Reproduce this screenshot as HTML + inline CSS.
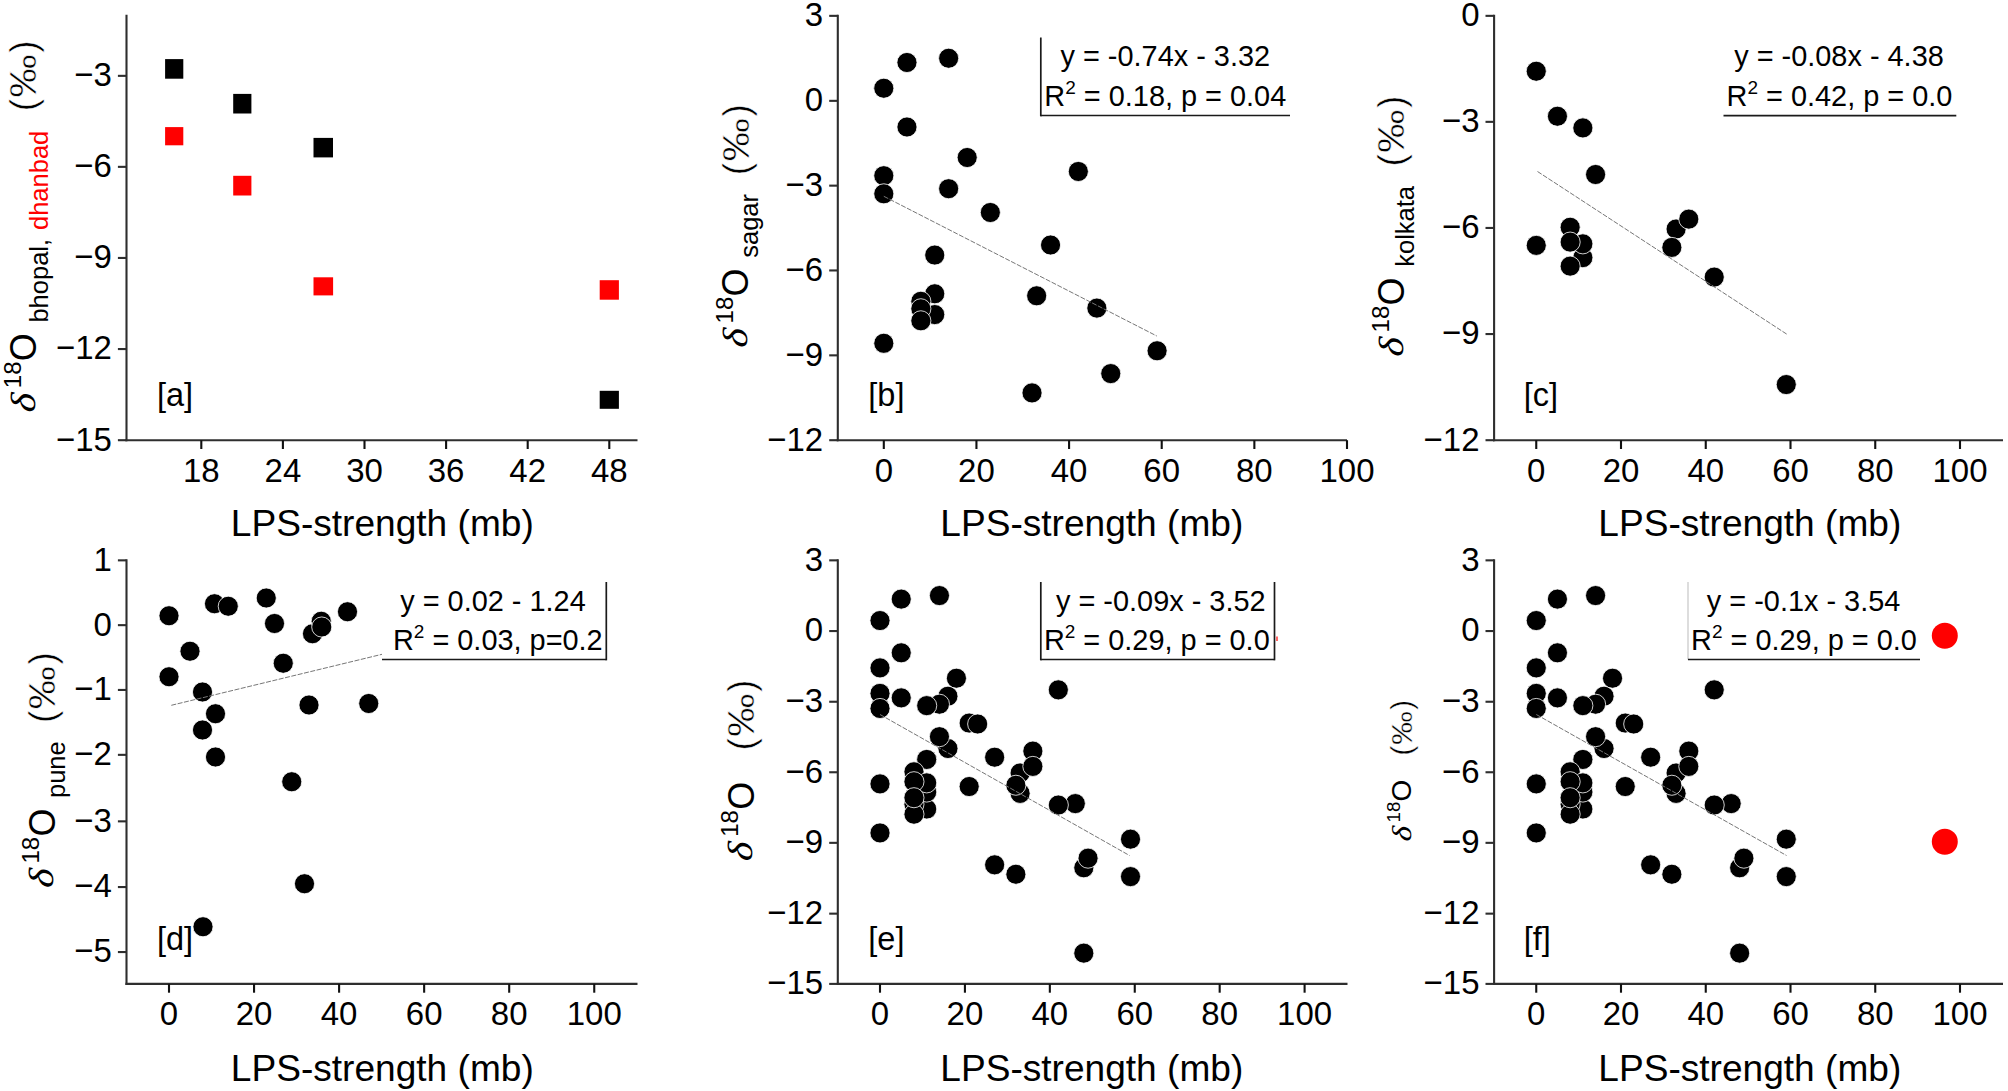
<!DOCTYPE html>
<html><head><meta charset="utf-8"><title>LPS-strength vs d18O</title>
<style>
html,body{margin:0;padding:0;background:#fff;}
body{width:2008px;height:1091px;overflow:hidden;}
svg{display:block;font-family:"Liberation Sans",Arial,sans-serif;}
</style></head><body>
<svg width="2008" height="1091" viewBox="0 0 2008 1091">
<rect width="2008" height="1091" fill="#fff"/>
<line x1="126.50" y1="14.80" x2="126.50" y2="441.25" stroke="#2e2e2e" stroke-width="2.1" />
<line x1="125.45" y1="440.20" x2="637.50" y2="440.20" stroke="#2e2e2e" stroke-width="2.1" />
<line x1="117.90" y1="75.85" x2="126.50" y2="75.85" stroke="#2e2e2e" stroke-width="2.1" />
<text transform="translate(111.90,86.25) scale(1,1.025)" font-size="33" text-anchor="end" fill="#000">−3</text>
<line x1="117.90" y1="166.85" x2="126.50" y2="166.85" stroke="#2e2e2e" stroke-width="2.1" />
<text transform="translate(111.90,177.25) scale(1,1.025)" font-size="33" text-anchor="end" fill="#000">−6</text>
<line x1="117.90" y1="257.95" x2="126.50" y2="257.95" stroke="#2e2e2e" stroke-width="2.1" />
<text transform="translate(111.90,268.35) scale(1,1.025)" font-size="33" text-anchor="end" fill="#000">−9</text>
<line x1="117.90" y1="349.05" x2="126.50" y2="349.05" stroke="#2e2e2e" stroke-width="2.1" />
<text transform="translate(111.90,359.45) scale(1,1.025)" font-size="33" text-anchor="end" fill="#000">−12</text>
<line x1="117.90" y1="440.20" x2="126.50" y2="440.20" stroke="#2e2e2e" stroke-width="2.1" />
<text transform="translate(111.90,450.60) scale(1,1.025)" font-size="33" text-anchor="end" fill="#000">−15</text>
<line x1="201.30" y1="440.20" x2="201.30" y2="449.00" stroke="#111" stroke-width="2.1" />
<text transform="translate(201.30,481.50) scale(1,1.02)" font-size="33" text-anchor="middle" fill="#000">18</text>
<line x1="282.90" y1="440.20" x2="282.90" y2="449.00" stroke="#111" stroke-width="2.1" />
<text transform="translate(282.90,481.50) scale(1,1.02)" font-size="33" text-anchor="middle" fill="#000">24</text>
<line x1="364.50" y1="440.20" x2="364.50" y2="449.00" stroke="#111" stroke-width="2.1" />
<text transform="translate(364.50,481.50) scale(1,1.02)" font-size="33" text-anchor="middle" fill="#000">30</text>
<line x1="446.10" y1="440.20" x2="446.10" y2="449.00" stroke="#111" stroke-width="2.1" />
<text transform="translate(446.10,481.50) scale(1,1.02)" font-size="33" text-anchor="middle" fill="#000">36</text>
<line x1="527.70" y1="440.20" x2="527.70" y2="449.00" stroke="#111" stroke-width="2.1" />
<text transform="translate(527.70,481.50) scale(1,1.02)" font-size="33" text-anchor="middle" fill="#000">42</text>
<line x1="609.30" y1="440.20" x2="609.30" y2="449.00" stroke="#111" stroke-width="2.1" />
<text transform="translate(609.30,481.50) scale(1,1.02)" font-size="33" text-anchor="middle" fill="#000">48</text>
<text x="382.30" y="536.30" font-size="37.1" text-anchor="middle" fill="#000" >LPS-strength (mb)</text>
<rect x="165.10" y="59.10" width="18.20" height="19.60" fill="#000"/>
<rect x="233.20" y="93.90" width="18.20" height="19.60" fill="#000"/>
<rect x="313.50" y="137.90" width="19.50" height="19.50" fill="#000"/>
<rect x="599.70" y="390.80" width="19.20" height="18.00" fill="#000"/>
<rect x="165.10" y="127.10" width="18.20" height="18.20" fill="#ff0000"/>
<rect x="233.20" y="175.80" width="18.20" height="19.70" fill="#ff0000"/>
<rect x="313.50" y="277.30" width="19.60" height="18.10" fill="#ff0000"/>
<rect x="599.70" y="280.20" width="19.20" height="19.50" fill="#ff0000"/>
<text x="157.00" y="406.30" font-size="32.5" text-anchor="start" fill="#000" >[a]</text>
<line x1="837.80" y1="14.80" x2="837.80" y2="441.25" stroke="#2e2e2e" stroke-width="2.1" />
<line x1="836.75" y1="440.20" x2="1347.00" y2="440.20" stroke="#2e2e2e" stroke-width="2.1" />
<line x1="829.20" y1="15.85" x2="837.80" y2="15.85" stroke="#2e2e2e" stroke-width="2.1" />
<text transform="translate(823.20,26.25) scale(1,1.025)" font-size="33" text-anchor="end" fill="#000">3</text>
<line x1="829.20" y1="100.85" x2="837.80" y2="100.85" stroke="#2e2e2e" stroke-width="2.1" />
<text transform="translate(823.20,111.25) scale(1,1.025)" font-size="33" text-anchor="end" fill="#000">0</text>
<line x1="829.20" y1="185.65" x2="837.80" y2="185.65" stroke="#2e2e2e" stroke-width="2.1" />
<text transform="translate(823.20,196.05) scale(1,1.025)" font-size="33" text-anchor="end" fill="#000">−3</text>
<line x1="829.20" y1="270.45" x2="837.80" y2="270.45" stroke="#2e2e2e" stroke-width="2.1" />
<text transform="translate(823.20,280.85) scale(1,1.025)" font-size="33" text-anchor="end" fill="#000">−6</text>
<line x1="829.20" y1="355.35" x2="837.80" y2="355.35" stroke="#2e2e2e" stroke-width="2.1" />
<text transform="translate(823.20,365.75) scale(1,1.025)" font-size="33" text-anchor="end" fill="#000">−9</text>
<line x1="829.20" y1="440.20" x2="837.80" y2="440.20" stroke="#2e2e2e" stroke-width="2.1" />
<text transform="translate(823.20,450.60) scale(1,1.025)" font-size="33" text-anchor="end" fill="#000">−12</text>
<line x1="883.80" y1="440.20" x2="883.80" y2="449.00" stroke="#111" stroke-width="2.1" />
<text transform="translate(883.80,481.50) scale(1,1.02)" font-size="33" text-anchor="middle" fill="#000">0</text>
<line x1="976.44" y1="440.20" x2="976.44" y2="449.00" stroke="#111" stroke-width="2.1" />
<text transform="translate(976.44,481.50) scale(1,1.02)" font-size="33" text-anchor="middle" fill="#000">20</text>
<line x1="1069.08" y1="440.20" x2="1069.08" y2="449.00" stroke="#111" stroke-width="2.1" />
<text transform="translate(1069.08,481.50) scale(1,1.02)" font-size="33" text-anchor="middle" fill="#000">40</text>
<line x1="1161.72" y1="440.20" x2="1161.72" y2="449.00" stroke="#111" stroke-width="2.1" />
<text transform="translate(1161.72,481.50) scale(1,1.02)" font-size="33" text-anchor="middle" fill="#000">60</text>
<line x1="1254.36" y1="440.20" x2="1254.36" y2="449.00" stroke="#111" stroke-width="2.1" />
<text transform="translate(1254.36,481.50) scale(1,1.02)" font-size="33" text-anchor="middle" fill="#000">80</text>
<line x1="1347.00" y1="440.20" x2="1347.00" y2="449.00" stroke="#111" stroke-width="2.1" />
<text transform="translate(1347.00,481.50) scale(1,1.02)" font-size="33" text-anchor="middle" fill="#000">100</text>
<text x="1091.80" y="536.30" font-size="37.1" text-anchor="middle" fill="#000" >LPS-strength (mb)</text>
<circle cx="883.80" cy="88.25" r="10.05" fill="#000" stroke="#fff" stroke-width="0.8"/>
<circle cx="906.96" cy="62.49" r="10.05" fill="#000" stroke="#fff" stroke-width="0.8"/>
<circle cx="948.65" cy="58.25" r="10.05" fill="#000" stroke="#fff" stroke-width="0.8"/>
<circle cx="906.96" cy="127.00" r="10.05" fill="#000" stroke="#fff" stroke-width="0.8"/>
<circle cx="883.80" cy="175.72" r="10.05" fill="#000" stroke="#fff" stroke-width="0.8"/>
<circle cx="948.65" cy="188.73" r="10.05" fill="#000" stroke="#fff" stroke-width="0.8"/>
<circle cx="883.80" cy="193.82" r="10.05" fill="#000" stroke="#fff" stroke-width="0.8"/>
<circle cx="967.18" cy="157.51" r="10.05" fill="#000" stroke="#fff" stroke-width="0.8"/>
<circle cx="990.34" cy="212.49" r="10.05" fill="#000" stroke="#fff" stroke-width="0.8"/>
<circle cx="934.75" cy="255.05" r="10.05" fill="#000" stroke="#fff" stroke-width="0.8"/>
<circle cx="883.80" cy="343.28" r="10.05" fill="#000" stroke="#fff" stroke-width="0.8"/>
<circle cx="934.75" cy="293.79" r="10.05" fill="#000" stroke="#fff" stroke-width="0.8"/>
<circle cx="934.75" cy="314.58" r="10.05" fill="#000" stroke="#fff" stroke-width="0.8"/>
<circle cx="920.86" cy="301.29" r="10.05" fill="#000" stroke="#fff" stroke-width="0.8"/>
<circle cx="920.86" cy="308.78" r="10.05" fill="#000" stroke="#fff" stroke-width="0.8"/>
<circle cx="920.86" cy="320.80" r="10.05" fill="#000" stroke="#fff" stroke-width="0.8"/>
<circle cx="1078.34" cy="171.48" r="10.05" fill="#000" stroke="#fff" stroke-width="0.8"/>
<circle cx="1050.55" cy="245.01" r="10.05" fill="#000" stroke="#fff" stroke-width="0.8"/>
<circle cx="1036.66" cy="295.80" r="10.05" fill="#000" stroke="#fff" stroke-width="0.8"/>
<circle cx="1096.87" cy="308.08" r="10.05" fill="#000" stroke="#fff" stroke-width="0.8"/>
<circle cx="1157.09" cy="350.78" r="10.05" fill="#000" stroke="#fff" stroke-width="0.8"/>
<circle cx="1110.77" cy="373.60" r="10.05" fill="#000" stroke="#fff" stroke-width="0.8"/>
<circle cx="1032.02" cy="392.92" r="10.05" fill="#000" stroke="#fff" stroke-width="0.8"/>
<line x1="883.80" y1="196.30" x2="1156.80" y2="336.00" stroke="#777" stroke-width="1.0" stroke-dasharray="5 1.5"/>
<text x="868.30" y="406.30" font-size="32.5" text-anchor="start" fill="#000" >[b]</text>
<line x1="1040.80" y1="37.50" x2="1040.80" y2="116.35" stroke="#1a1a1a" stroke-width="1.7" />
<line x1="1040.80" y1="115.50" x2="1290.00" y2="115.50" stroke="#1a1a1a" stroke-width="1.7" />
<text x="1165.30" y="66.30" font-size="28.9" text-anchor="middle" fill="#000" >y = -0.74x - 3.32</text>
<text x="1165.30" y="105.50" font-size="28.9" text-anchor="middle" fill="#000" >R<tspan font-size="19" dy="-12">2</tspan><tspan dy="12"> </tspan>= 0.18, p = 0.04</text>
<line x1="1494.10" y1="14.80" x2="1494.10" y2="441.25" stroke="#2e2e2e" stroke-width="2.1" />
<line x1="1493.05" y1="440.20" x2="2003.00" y2="440.20" stroke="#2e2e2e" stroke-width="2.1" />
<line x1="1485.50" y1="15.85" x2="1494.10" y2="15.85" stroke="#2e2e2e" stroke-width="2.1" />
<text transform="translate(1479.50,26.25) scale(1,1.025)" font-size="33" text-anchor="end" fill="#000">0</text>
<line x1="1485.50" y1="121.85" x2="1494.10" y2="121.85" stroke="#2e2e2e" stroke-width="2.1" />
<text transform="translate(1479.50,132.25) scale(1,1.025)" font-size="33" text-anchor="end" fill="#000">−3</text>
<line x1="1485.50" y1="227.95" x2="1494.10" y2="227.95" stroke="#2e2e2e" stroke-width="2.1" />
<text transform="translate(1479.50,238.35) scale(1,1.025)" font-size="33" text-anchor="end" fill="#000">−6</text>
<line x1="1485.50" y1="334.05" x2="1494.10" y2="334.05" stroke="#2e2e2e" stroke-width="2.1" />
<text transform="translate(1479.50,344.45) scale(1,1.025)" font-size="33" text-anchor="end" fill="#000">−9</text>
<line x1="1485.50" y1="440.20" x2="1494.10" y2="440.20" stroke="#2e2e2e" stroke-width="2.1" />
<text transform="translate(1479.50,450.60) scale(1,1.025)" font-size="33" text-anchor="end" fill="#000">−12</text>
<line x1="1536.25" y1="440.20" x2="1536.25" y2="449.00" stroke="#111" stroke-width="2.1" />
<text transform="translate(1536.25,481.50) scale(1,1.02)" font-size="33" text-anchor="middle" fill="#000">0</text>
<line x1="1621.00" y1="440.20" x2="1621.00" y2="449.00" stroke="#111" stroke-width="2.1" />
<text transform="translate(1621.00,481.50) scale(1,1.02)" font-size="33" text-anchor="middle" fill="#000">20</text>
<line x1="1705.75" y1="440.20" x2="1705.75" y2="449.00" stroke="#111" stroke-width="2.1" />
<text transform="translate(1705.75,481.50) scale(1,1.02)" font-size="33" text-anchor="middle" fill="#000">40</text>
<line x1="1790.50" y1="440.20" x2="1790.50" y2="449.00" stroke="#111" stroke-width="2.1" />
<text transform="translate(1790.50,481.50) scale(1,1.02)" font-size="33" text-anchor="middle" fill="#000">60</text>
<line x1="1875.25" y1="440.20" x2="1875.25" y2="449.00" stroke="#111" stroke-width="2.1" />
<text transform="translate(1875.25,481.50) scale(1,1.02)" font-size="33" text-anchor="middle" fill="#000">80</text>
<line x1="1960.00" y1="440.20" x2="1960.00" y2="449.00" stroke="#111" stroke-width="2.1" />
<text transform="translate(1960.00,481.50) scale(1,1.02)" font-size="33" text-anchor="middle" fill="#000">100</text>
<text x="1749.80" y="536.30" font-size="37.1" text-anchor="middle" fill="#000" >LPS-strength (mb)</text>
<circle cx="1536.25" cy="71.25" r="10.05" fill="#000" stroke="#fff" stroke-width="0.8"/>
<circle cx="1557.44" cy="116.25" r="10.05" fill="#000" stroke="#fff" stroke-width="0.8"/>
<circle cx="1582.86" cy="127.91" r="10.05" fill="#000" stroke="#fff" stroke-width="0.8"/>
<circle cx="1595.58" cy="174.50" r="10.05" fill="#000" stroke="#fff" stroke-width="0.8"/>
<circle cx="1536.25" cy="245.38" r="10.05" fill="#000" stroke="#fff" stroke-width="0.8"/>
<circle cx="1570.15" cy="227.25" r="10.05" fill="#000" stroke="#fff" stroke-width="0.8"/>
<circle cx="1582.86" cy="257.65" r="10.05" fill="#000" stroke="#fff" stroke-width="0.8"/>
<circle cx="1582.86" cy="243.86" r="10.05" fill="#000" stroke="#fff" stroke-width="0.8"/>
<circle cx="1570.15" cy="242.09" r="10.05" fill="#000" stroke="#fff" stroke-width="0.8"/>
<circle cx="1570.15" cy="266.13" r="10.05" fill="#000" stroke="#fff" stroke-width="0.8"/>
<circle cx="1676.09" cy="229.01" r="10.05" fill="#000" stroke="#fff" stroke-width="0.8"/>
<circle cx="1688.80" cy="219.12" r="10.05" fill="#000" stroke="#fff" stroke-width="0.8"/>
<circle cx="1671.85" cy="247.40" r="10.05" fill="#000" stroke="#fff" stroke-width="0.8"/>
<circle cx="1714.22" cy="277.09" r="10.05" fill="#000" stroke="#fff" stroke-width="0.8"/>
<circle cx="1786.26" cy="384.55" r="10.05" fill="#000" stroke="#fff" stroke-width="0.8"/>
<line x1="1537.50" y1="171.50" x2="1787.00" y2="334.30" stroke="#777" stroke-width="1.0" stroke-dasharray="5 1.5"/>
<text x="1523.80" y="406.30" font-size="32.5" text-anchor="start" fill="#000" >[c]</text>
<line x1="1723.50" y1="115.70" x2="1956.30" y2="115.70" stroke="#1a1a1a" stroke-width="1.7" />
<text x="1839.00" y="66.30" font-size="28.9" text-anchor="middle" fill="#000" >y = -0.08x - 4.38</text>
<text x="1839.50" y="105.50" font-size="28.9" text-anchor="middle" fill="#000" >R<tspan font-size="19" dy="-12">2</tspan><tspan dy="12"> </tspan>= 0.42, p = 0.0</text>
<line x1="126.50" y1="559.30" x2="126.50" y2="984.95" stroke="#2e2e2e" stroke-width="2.1" />
<line x1="125.45" y1="983.90" x2="637.50" y2="983.90" stroke="#2e2e2e" stroke-width="2.1" />
<line x1="117.90" y1="560.35" x2="126.50" y2="560.35" stroke="#2e2e2e" stroke-width="2.1" />
<text transform="translate(111.90,570.75) scale(1,1.025)" font-size="33" text-anchor="end" fill="#000">1</text>
<line x1="117.90" y1="625.15" x2="126.50" y2="625.15" stroke="#2e2e2e" stroke-width="2.1" />
<text transform="translate(111.90,635.55) scale(1,1.025)" font-size="33" text-anchor="end" fill="#000">0</text>
<line x1="117.90" y1="689.95" x2="126.50" y2="689.95" stroke="#2e2e2e" stroke-width="2.1" />
<text transform="translate(111.90,700.35) scale(1,1.025)" font-size="33" text-anchor="end" fill="#000">−1</text>
<line x1="117.90" y1="754.85" x2="126.50" y2="754.85" stroke="#2e2e2e" stroke-width="2.1" />
<text transform="translate(111.90,765.25) scale(1,1.025)" font-size="33" text-anchor="end" fill="#000">−2</text>
<line x1="117.90" y1="821.35" x2="126.50" y2="821.35" stroke="#2e2e2e" stroke-width="2.1" />
<text transform="translate(111.90,831.75) scale(1,1.025)" font-size="33" text-anchor="end" fill="#000">−3</text>
<line x1="117.90" y1="887.05" x2="126.50" y2="887.05" stroke="#2e2e2e" stroke-width="2.1" />
<text transform="translate(111.90,897.45) scale(1,1.025)" font-size="33" text-anchor="end" fill="#000">−4</text>
<line x1="117.90" y1="952.05" x2="126.50" y2="952.05" stroke="#2e2e2e" stroke-width="2.1" />
<text transform="translate(111.90,962.45) scale(1,1.025)" font-size="33" text-anchor="end" fill="#000">−5</text>
<line x1="169.00" y1="983.90" x2="169.00" y2="992.70" stroke="#111" stroke-width="2.1" />
<text transform="translate(169.00,1025.20) scale(1,1.02)" font-size="33" text-anchor="middle" fill="#000">0</text>
<line x1="254.05" y1="983.90" x2="254.05" y2="992.70" stroke="#111" stroke-width="2.1" />
<text transform="translate(254.05,1025.20) scale(1,1.02)" font-size="33" text-anchor="middle" fill="#000">20</text>
<line x1="339.10" y1="983.90" x2="339.10" y2="992.70" stroke="#111" stroke-width="2.1" />
<text transform="translate(339.10,1025.20) scale(1,1.02)" font-size="33" text-anchor="middle" fill="#000">40</text>
<line x1="424.15" y1="983.90" x2="424.15" y2="992.70" stroke="#111" stroke-width="2.1" />
<text transform="translate(424.15,1025.20) scale(1,1.02)" font-size="33" text-anchor="middle" fill="#000">60</text>
<line x1="509.20" y1="983.90" x2="509.20" y2="992.70" stroke="#111" stroke-width="2.1" />
<text transform="translate(509.20,1025.20) scale(1,1.02)" font-size="33" text-anchor="middle" fill="#000">80</text>
<line x1="594.25" y1="983.90" x2="594.25" y2="992.70" stroke="#111" stroke-width="2.1" />
<text transform="translate(594.25,1025.20) scale(1,1.02)" font-size="33" text-anchor="middle" fill="#000">100</text>
<text x="382.30" y="1080.60" font-size="37.1" text-anchor="middle" fill="#000" >LPS-strength (mb)</text>
<circle cx="169.00" cy="615.75" r="10.05" fill="#000" stroke="#fff" stroke-width="0.8"/>
<circle cx="169.00" cy="676.75" r="10.05" fill="#000" stroke="#fff" stroke-width="0.8"/>
<circle cx="190.00" cy="651.25" r="10.05" fill="#000" stroke="#fff" stroke-width="0.8"/>
<circle cx="202.50" cy="692.00" r="10.05" fill="#000" stroke="#fff" stroke-width="0.8"/>
<circle cx="214.50" cy="603.75" r="10.05" fill="#000" stroke="#fff" stroke-width="0.8"/>
<circle cx="228.25" cy="606.25" r="10.05" fill="#000" stroke="#fff" stroke-width="0.8"/>
<circle cx="215.50" cy="713.75" r="10.05" fill="#000" stroke="#fff" stroke-width="0.8"/>
<circle cx="202.50" cy="730.00" r="10.05" fill="#000" stroke="#fff" stroke-width="0.8"/>
<circle cx="215.50" cy="757.00" r="10.05" fill="#000" stroke="#fff" stroke-width="0.8"/>
<circle cx="266.25" cy="598.00" r="10.05" fill="#000" stroke="#fff" stroke-width="0.8"/>
<circle cx="274.50" cy="623.50" r="10.05" fill="#000" stroke="#fff" stroke-width="0.8"/>
<circle cx="283.25" cy="663.25" r="10.05" fill="#000" stroke="#fff" stroke-width="0.8"/>
<circle cx="309.00" cy="705.00" r="10.05" fill="#000" stroke="#fff" stroke-width="0.8"/>
<circle cx="291.75" cy="781.75" r="10.05" fill="#000" stroke="#fff" stroke-width="0.8"/>
<circle cx="312.50" cy="633.75" r="10.05" fill="#000" stroke="#fff" stroke-width="0.8"/>
<circle cx="321.25" cy="621.25" r="10.05" fill="#000" stroke="#fff" stroke-width="0.8"/>
<circle cx="321.75" cy="627.00" r="10.05" fill="#000" stroke="#fff" stroke-width="0.8"/>
<circle cx="347.50" cy="611.75" r="10.05" fill="#000" stroke="#fff" stroke-width="0.8"/>
<circle cx="368.75" cy="703.50" r="10.05" fill="#000" stroke="#fff" stroke-width="0.8"/>
<circle cx="203.00" cy="926.75" r="10.05" fill="#000" stroke="#fff" stroke-width="0.8"/>
<circle cx="304.50" cy="883.75" r="10.05" fill="#000" stroke="#fff" stroke-width="0.8"/>
<line x1="171.30" y1="705.30" x2="382.00" y2="654.30" stroke="#777" stroke-width="1.0" stroke-dasharray="5 1.5"/>
<text x="157.00" y="950.30" font-size="32.5" text-anchor="start" fill="#000" >[d]</text>
<line x1="606.30" y1="582.00" x2="606.30" y2="660.35" stroke="#1a1a1a" stroke-width="1.7" />
<line x1="382.00" y1="659.50" x2="606.30" y2="659.50" stroke="#1a1a1a" stroke-width="1.7" />
<text x="493.00" y="610.50" font-size="28.9" text-anchor="middle" fill="#000" >y = 0.02 - 1.24</text>
<text x="497.80" y="649.50" font-size="28.9" text-anchor="middle" fill="#000" >R<tspan font-size="19" dy="-12">2</tspan><tspan dy="12"> </tspan>= 0.03, p=0.2</text>
<line x1="837.80" y1="559.30" x2="837.80" y2="984.95" stroke="#2e2e2e" stroke-width="2.1" />
<line x1="836.75" y1="983.90" x2="1347.50" y2="983.90" stroke="#2e2e2e" stroke-width="2.1" />
<line x1="829.20" y1="560.35" x2="837.80" y2="560.35" stroke="#2e2e2e" stroke-width="2.1" />
<text transform="translate(823.20,570.75) scale(1,1.025)" font-size="33" text-anchor="end" fill="#000">3</text>
<line x1="829.20" y1="631.05" x2="837.80" y2="631.05" stroke="#2e2e2e" stroke-width="2.1" />
<text transform="translate(823.20,641.45) scale(1,1.025)" font-size="33" text-anchor="end" fill="#000">0</text>
<line x1="829.20" y1="701.75" x2="837.80" y2="701.75" stroke="#2e2e2e" stroke-width="2.1" />
<text transform="translate(823.20,712.15) scale(1,1.025)" font-size="33" text-anchor="end" fill="#000">−3</text>
<line x1="829.20" y1="772.25" x2="837.80" y2="772.25" stroke="#2e2e2e" stroke-width="2.1" />
<text transform="translate(823.20,782.65) scale(1,1.025)" font-size="33" text-anchor="end" fill="#000">−6</text>
<line x1="829.20" y1="842.85" x2="837.80" y2="842.85" stroke="#2e2e2e" stroke-width="2.1" />
<text transform="translate(823.20,853.25) scale(1,1.025)" font-size="33" text-anchor="end" fill="#000">−9</text>
<line x1="829.20" y1="913.65" x2="837.80" y2="913.65" stroke="#2e2e2e" stroke-width="2.1" />
<text transform="translate(823.20,924.05) scale(1,1.025)" font-size="33" text-anchor="end" fill="#000">−12</text>
<line x1="829.20" y1="983.90" x2="837.80" y2="983.90" stroke="#2e2e2e" stroke-width="2.1" />
<text transform="translate(823.20,994.30) scale(1,1.025)" font-size="33" text-anchor="end" fill="#000">−15</text>
<line x1="880.00" y1="983.90" x2="880.00" y2="992.70" stroke="#111" stroke-width="2.1" />
<text transform="translate(880.00,1025.20) scale(1,1.02)" font-size="33" text-anchor="middle" fill="#000">0</text>
<line x1="964.92" y1="983.90" x2="964.92" y2="992.70" stroke="#111" stroke-width="2.1" />
<text transform="translate(964.92,1025.20) scale(1,1.02)" font-size="33" text-anchor="middle" fill="#000">20</text>
<line x1="1049.84" y1="983.90" x2="1049.84" y2="992.70" stroke="#111" stroke-width="2.1" />
<text transform="translate(1049.84,1025.20) scale(1,1.02)" font-size="33" text-anchor="middle" fill="#000">40</text>
<line x1="1134.76" y1="983.90" x2="1134.76" y2="992.70" stroke="#111" stroke-width="2.1" />
<text transform="translate(1134.76,1025.20) scale(1,1.02)" font-size="33" text-anchor="middle" fill="#000">60</text>
<line x1="1219.68" y1="983.90" x2="1219.68" y2="992.70" stroke="#111" stroke-width="2.1" />
<text transform="translate(1219.68,1025.20) scale(1,1.02)" font-size="33" text-anchor="middle" fill="#000">80</text>
<line x1="1304.60" y1="983.90" x2="1304.60" y2="992.70" stroke="#111" stroke-width="2.1" />
<text transform="translate(1304.60,1025.20) scale(1,1.02)" font-size="33" text-anchor="middle" fill="#000">100</text>
<text x="1091.80" y="1080.60" font-size="37.1" text-anchor="middle" fill="#000" >LPS-strength (mb)</text>
<circle cx="947.94" cy="696.22" r="10.05" fill="#000" stroke="#fff" stroke-width="0.8"/>
<circle cx="969.17" cy="723.07" r="10.05" fill="#000" stroke="#fff" stroke-width="0.8"/>
<circle cx="994.64" cy="757.21" r="10.05" fill="#000" stroke="#fff" stroke-width="0.8"/>
<circle cx="1083.81" cy="953.15" r="10.05" fill="#000" stroke="#fff" stroke-width="0.8"/>
<circle cx="947.94" cy="748.50" r="10.05" fill="#000" stroke="#fff" stroke-width="0.8"/>
<circle cx="969.17" cy="786.53" r="10.05" fill="#000" stroke="#fff" stroke-width="0.8"/>
<circle cx="994.64" cy="864.84" r="10.05" fill="#000" stroke="#fff" stroke-width="0.8"/>
<circle cx="1083.81" cy="867.78" r="10.05" fill="#000" stroke="#fff" stroke-width="0.8"/>
<circle cx="880.00" cy="620.55" r="10.05" fill="#000" stroke="#fff" stroke-width="0.8"/>
<circle cx="901.23" cy="599.10" r="10.05" fill="#000" stroke="#fff" stroke-width="0.8"/>
<circle cx="939.44" cy="595.57" r="10.05" fill="#000" stroke="#fff" stroke-width="0.8"/>
<circle cx="901.23" cy="652.82" r="10.05" fill="#000" stroke="#fff" stroke-width="0.8"/>
<circle cx="880.00" cy="693.39" r="10.05" fill="#000" stroke="#fff" stroke-width="0.8"/>
<circle cx="939.44" cy="704.23" r="10.05" fill="#000" stroke="#fff" stroke-width="0.8"/>
<circle cx="880.00" cy="708.47" r="10.05" fill="#000" stroke="#fff" stroke-width="0.8"/>
<circle cx="956.43" cy="678.23" r="10.05" fill="#000" stroke="#fff" stroke-width="0.8"/>
<circle cx="977.66" cy="724.01" r="10.05" fill="#000" stroke="#fff" stroke-width="0.8"/>
<circle cx="926.71" cy="759.45" r="10.05" fill="#000" stroke="#fff" stroke-width="0.8"/>
<circle cx="880.00" cy="832.93" r="10.05" fill="#000" stroke="#fff" stroke-width="0.8"/>
<circle cx="926.71" cy="791.71" r="10.05" fill="#000" stroke="#fff" stroke-width="0.8"/>
<circle cx="926.71" cy="809.02" r="10.05" fill="#000" stroke="#fff" stroke-width="0.8"/>
<circle cx="913.97" cy="797.95" r="10.05" fill="#000" stroke="#fff" stroke-width="0.8"/>
<circle cx="913.97" cy="804.20" r="10.05" fill="#000" stroke="#fff" stroke-width="0.8"/>
<circle cx="913.97" cy="814.20" r="10.05" fill="#000" stroke="#fff" stroke-width="0.8"/>
<circle cx="1058.33" cy="689.86" r="10.05" fill="#000" stroke="#fff" stroke-width="0.8"/>
<circle cx="1032.86" cy="751.09" r="10.05" fill="#000" stroke="#fff" stroke-width="0.8"/>
<circle cx="1020.12" cy="793.39" r="10.05" fill="#000" stroke="#fff" stroke-width="0.8"/>
<circle cx="1075.32" cy="803.61" r="10.05" fill="#000" stroke="#fff" stroke-width="0.8"/>
<circle cx="1130.51" cy="839.17" r="10.05" fill="#000" stroke="#fff" stroke-width="0.8"/>
<circle cx="1088.05" cy="858.17" r="10.05" fill="#000" stroke="#fff" stroke-width="0.8"/>
<circle cx="1015.87" cy="874.26" r="10.05" fill="#000" stroke="#fff" stroke-width="0.8"/>
<circle cx="880.00" cy="667.89" r="10.05" fill="#000" stroke="#fff" stroke-width="0.8"/>
<circle cx="901.23" cy="697.87" r="10.05" fill="#000" stroke="#fff" stroke-width="0.8"/>
<circle cx="926.71" cy="705.64" r="10.05" fill="#000" stroke="#fff" stroke-width="0.8"/>
<circle cx="939.44" cy="736.68" r="10.05" fill="#000" stroke="#fff" stroke-width="0.8"/>
<circle cx="880.00" cy="783.90" r="10.05" fill="#000" stroke="#fff" stroke-width="0.8"/>
<circle cx="913.97" cy="771.81" r="10.05" fill="#000" stroke="#fff" stroke-width="0.8"/>
<circle cx="926.71" cy="792.07" r="10.05" fill="#000" stroke="#fff" stroke-width="0.8"/>
<circle cx="926.71" cy="782.88" r="10.05" fill="#000" stroke="#fff" stroke-width="0.8"/>
<circle cx="913.97" cy="781.71" r="10.05" fill="#000" stroke="#fff" stroke-width="0.8"/>
<circle cx="913.97" cy="797.72" r="10.05" fill="#000" stroke="#fff" stroke-width="0.8"/>
<circle cx="1020.12" cy="772.99" r="10.05" fill="#000" stroke="#fff" stroke-width="0.8"/>
<circle cx="1032.86" cy="766.40" r="10.05" fill="#000" stroke="#fff" stroke-width="0.8"/>
<circle cx="1015.87" cy="785.24" r="10.05" fill="#000" stroke="#fff" stroke-width="0.8"/>
<circle cx="1058.33" cy="805.02" r="10.05" fill="#000" stroke="#fff" stroke-width="0.8"/>
<circle cx="1130.51" cy="876.61" r="10.05" fill="#000" stroke="#fff" stroke-width="0.8"/>
<line x1="880.00" y1="714.50" x2="1129.50" y2="855.50" stroke="#777" stroke-width="1.0" stroke-dasharray="5 1.5"/>
<text x="868.30" y="950.30" font-size="32.5" text-anchor="start" fill="#000" >[e]</text>
<line x1="1040.80" y1="582.00" x2="1040.80" y2="660.35" stroke="#1a1a1a" stroke-width="1.7" />
<line x1="1040.80" y1="659.50" x2="1274.50" y2="659.50" stroke="#1a1a1a" stroke-width="1.7" />
<line x1="1274.50" y1="582.00" x2="1274.50" y2="660.35" stroke="#1a1a1a" stroke-width="1.7" />
<text x="1160.80" y="610.50" font-size="28.9" text-anchor="middle" fill="#000" >y = -0.09x - 3.52</text>
<text x="1156.80" y="649.50" font-size="28.9" text-anchor="middle" fill="#000" >R<tspan font-size="19" dy="-12">2</tspan><tspan dy="12"> </tspan>= 0.29, p = 0.0</text>
<line x1="1277.00" y1="636.50" x2="1277.00" y2="641.00" stroke="#ff0000" stroke-width="1.2" />
<line x1="1494.10" y1="559.30" x2="1494.10" y2="984.95" stroke="#2e2e2e" stroke-width="2.1" />
<line x1="1493.05" y1="983.90" x2="2003.00" y2="983.90" stroke="#2e2e2e" stroke-width="2.1" />
<line x1="1485.50" y1="560.35" x2="1494.10" y2="560.35" stroke="#2e2e2e" stroke-width="2.1" />
<text transform="translate(1479.50,570.75) scale(1,1.025)" font-size="33" text-anchor="end" fill="#000">3</text>
<line x1="1485.50" y1="631.05" x2="1494.10" y2="631.05" stroke="#2e2e2e" stroke-width="2.1" />
<text transform="translate(1479.50,641.45) scale(1,1.025)" font-size="33" text-anchor="end" fill="#000">0</text>
<line x1="1485.50" y1="701.75" x2="1494.10" y2="701.75" stroke="#2e2e2e" stroke-width="2.1" />
<text transform="translate(1479.50,712.15) scale(1,1.025)" font-size="33" text-anchor="end" fill="#000">−3</text>
<line x1="1485.50" y1="772.25" x2="1494.10" y2="772.25" stroke="#2e2e2e" stroke-width="2.1" />
<text transform="translate(1479.50,782.65) scale(1,1.025)" font-size="33" text-anchor="end" fill="#000">−6</text>
<line x1="1485.50" y1="842.85" x2="1494.10" y2="842.85" stroke="#2e2e2e" stroke-width="2.1" />
<text transform="translate(1479.50,853.25) scale(1,1.025)" font-size="33" text-anchor="end" fill="#000">−9</text>
<line x1="1485.50" y1="913.65" x2="1494.10" y2="913.65" stroke="#2e2e2e" stroke-width="2.1" />
<text transform="translate(1479.50,924.05) scale(1,1.025)" font-size="33" text-anchor="end" fill="#000">−12</text>
<line x1="1485.50" y1="983.90" x2="1494.10" y2="983.90" stroke="#2e2e2e" stroke-width="2.1" />
<text transform="translate(1479.50,994.30) scale(1,1.025)" font-size="33" text-anchor="end" fill="#000">−15</text>
<line x1="1536.25" y1="983.90" x2="1536.25" y2="992.70" stroke="#111" stroke-width="2.1" />
<text transform="translate(1536.25,1025.20) scale(1,1.02)" font-size="33" text-anchor="middle" fill="#000">0</text>
<line x1="1621.00" y1="983.90" x2="1621.00" y2="992.70" stroke="#111" stroke-width="2.1" />
<text transform="translate(1621.00,1025.20) scale(1,1.02)" font-size="33" text-anchor="middle" fill="#000">20</text>
<line x1="1705.75" y1="983.90" x2="1705.75" y2="992.70" stroke="#111" stroke-width="2.1" />
<text transform="translate(1705.75,1025.20) scale(1,1.02)" font-size="33" text-anchor="middle" fill="#000">40</text>
<line x1="1790.50" y1="983.90" x2="1790.50" y2="992.70" stroke="#111" stroke-width="2.1" />
<text transform="translate(1790.50,1025.20) scale(1,1.02)" font-size="33" text-anchor="middle" fill="#000">60</text>
<line x1="1875.25" y1="983.90" x2="1875.25" y2="992.70" stroke="#111" stroke-width="2.1" />
<text transform="translate(1875.25,1025.20) scale(1,1.02)" font-size="33" text-anchor="middle" fill="#000">80</text>
<line x1="1960.00" y1="983.90" x2="1960.00" y2="992.70" stroke="#111" stroke-width="2.1" />
<text transform="translate(1960.00,1025.20) scale(1,1.02)" font-size="33" text-anchor="middle" fill="#000">100</text>
<text x="1749.80" y="1080.60" font-size="37.1" text-anchor="middle" fill="#000" >LPS-strength (mb)</text>
<circle cx="1604.05" cy="696.22" r="10.05" fill="#000" stroke="#fff" stroke-width="0.8"/>
<circle cx="1625.24" cy="723.07" r="10.05" fill="#000" stroke="#fff" stroke-width="0.8"/>
<circle cx="1650.66" cy="757.21" r="10.05" fill="#000" stroke="#fff" stroke-width="0.8"/>
<circle cx="1739.65" cy="953.15" r="10.05" fill="#000" stroke="#fff" stroke-width="0.8"/>
<circle cx="1604.05" cy="748.50" r="10.05" fill="#000" stroke="#fff" stroke-width="0.8"/>
<circle cx="1625.24" cy="786.53" r="10.05" fill="#000" stroke="#fff" stroke-width="0.8"/>
<circle cx="1650.66" cy="864.84" r="10.05" fill="#000" stroke="#fff" stroke-width="0.8"/>
<circle cx="1739.65" cy="867.78" r="10.05" fill="#000" stroke="#fff" stroke-width="0.8"/>
<circle cx="1536.25" cy="620.55" r="10.05" fill="#000" stroke="#fff" stroke-width="0.8"/>
<circle cx="1557.44" cy="599.10" r="10.05" fill="#000" stroke="#fff" stroke-width="0.8"/>
<circle cx="1595.58" cy="595.57" r="10.05" fill="#000" stroke="#fff" stroke-width="0.8"/>
<circle cx="1557.44" cy="652.82" r="10.05" fill="#000" stroke="#fff" stroke-width="0.8"/>
<circle cx="1536.25" cy="693.39" r="10.05" fill="#000" stroke="#fff" stroke-width="0.8"/>
<circle cx="1595.58" cy="704.23" r="10.05" fill="#000" stroke="#fff" stroke-width="0.8"/>
<circle cx="1536.25" cy="708.47" r="10.05" fill="#000" stroke="#fff" stroke-width="0.8"/>
<circle cx="1612.53" cy="678.23" r="10.05" fill="#000" stroke="#fff" stroke-width="0.8"/>
<circle cx="1633.71" cy="724.01" r="10.05" fill="#000" stroke="#fff" stroke-width="0.8"/>
<circle cx="1582.86" cy="759.45" r="10.05" fill="#000" stroke="#fff" stroke-width="0.8"/>
<circle cx="1536.25" cy="832.93" r="10.05" fill="#000" stroke="#fff" stroke-width="0.8"/>
<circle cx="1582.86" cy="791.71" r="10.05" fill="#000" stroke="#fff" stroke-width="0.8"/>
<circle cx="1582.86" cy="809.02" r="10.05" fill="#000" stroke="#fff" stroke-width="0.8"/>
<circle cx="1570.15" cy="797.95" r="10.05" fill="#000" stroke="#fff" stroke-width="0.8"/>
<circle cx="1570.15" cy="804.20" r="10.05" fill="#000" stroke="#fff" stroke-width="0.8"/>
<circle cx="1570.15" cy="814.20" r="10.05" fill="#000" stroke="#fff" stroke-width="0.8"/>
<circle cx="1714.22" cy="689.86" r="10.05" fill="#000" stroke="#fff" stroke-width="0.8"/>
<circle cx="1688.80" cy="751.09" r="10.05" fill="#000" stroke="#fff" stroke-width="0.8"/>
<circle cx="1676.09" cy="793.39" r="10.05" fill="#000" stroke="#fff" stroke-width="0.8"/>
<circle cx="1731.17" cy="803.61" r="10.05" fill="#000" stroke="#fff" stroke-width="0.8"/>
<circle cx="1786.26" cy="839.17" r="10.05" fill="#000" stroke="#fff" stroke-width="0.8"/>
<circle cx="1743.89" cy="858.17" r="10.05" fill="#000" stroke="#fff" stroke-width="0.8"/>
<circle cx="1671.85" cy="874.26" r="10.05" fill="#000" stroke="#fff" stroke-width="0.8"/>
<circle cx="1536.25" cy="667.89" r="10.05" fill="#000" stroke="#fff" stroke-width="0.8"/>
<circle cx="1557.44" cy="697.87" r="10.05" fill="#000" stroke="#fff" stroke-width="0.8"/>
<circle cx="1582.86" cy="705.64" r="10.05" fill="#000" stroke="#fff" stroke-width="0.8"/>
<circle cx="1595.58" cy="736.68" r="10.05" fill="#000" stroke="#fff" stroke-width="0.8"/>
<circle cx="1536.25" cy="783.90" r="10.05" fill="#000" stroke="#fff" stroke-width="0.8"/>
<circle cx="1570.15" cy="771.81" r="10.05" fill="#000" stroke="#fff" stroke-width="0.8"/>
<circle cx="1582.86" cy="792.07" r="10.05" fill="#000" stroke="#fff" stroke-width="0.8"/>
<circle cx="1582.86" cy="782.88" r="10.05" fill="#000" stroke="#fff" stroke-width="0.8"/>
<circle cx="1570.15" cy="781.71" r="10.05" fill="#000" stroke="#fff" stroke-width="0.8"/>
<circle cx="1570.15" cy="797.72" r="10.05" fill="#000" stroke="#fff" stroke-width="0.8"/>
<circle cx="1676.09" cy="772.99" r="10.05" fill="#000" stroke="#fff" stroke-width="0.8"/>
<circle cx="1688.80" cy="766.40" r="10.05" fill="#000" stroke="#fff" stroke-width="0.8"/>
<circle cx="1671.85" cy="785.24" r="10.05" fill="#000" stroke="#fff" stroke-width="0.8"/>
<circle cx="1714.22" cy="805.02" r="10.05" fill="#000" stroke="#fff" stroke-width="0.8"/>
<circle cx="1786.26" cy="876.61" r="10.05" fill="#000" stroke="#fff" stroke-width="0.8"/>
<line x1="1536.30" y1="714.50" x2="1786.50" y2="855.50" stroke="#777" stroke-width="1.0" stroke-dasharray="5 1.5"/>
<circle cx="1944.80" cy="635.80" r="13" fill="#ff0000" stroke="none" stroke-width="0"/>
<circle cx="1944.80" cy="841.80" r="13" fill="#ff0000" stroke="none" stroke-width="0"/>
<text x="1523.80" y="950.30" font-size="32.5" text-anchor="start" fill="#000" >[f]</text>
<line x1="1688.00" y1="582.00" x2="1688.00" y2="659.50" stroke="#bbb" stroke-width="1.0" />
<line x1="1688.00" y1="659.50" x2="1920.00" y2="659.50" stroke="#1a1a1a" stroke-width="1.7" />
<text x="1803.60" y="610.50" font-size="28.9" text-anchor="middle" fill="#000" >y = -0.1x - 3.54</text>
<text x="1804.00" y="649.50" font-size="28.9" text-anchor="middle" fill="#000" >R<tspan font-size="19" dy="-12">2</tspan><tspan dy="12"> </tspan>= 0.29, p = 0.0</text>
<text transform="translate(34.70,414.30) rotate(-90) skewX(-14) scale(1.2,1)" font-size="35.00" fill="#000" font-family="Liberation Serif,serif">δ</text>
<text transform="translate(20.70,388.20) rotate(-90)" font-size="24.00" fill="#000" >18</text>
<text transform="translate(35.90,361.20) rotate(-90)" font-size="36.00" fill="#000" >O</text>
<text transform="translate(47.90,322.60) rotate(-90)" font-size="25.50" fill="#000" >bhopal,</text>
<text transform="translate(47.90,230.00) rotate(-90)" font-size="25.50" fill="#ff0000" >dhanbad</text>
<text transform="translate(36.30,111.35) rotate(-90)" font-size="37.10" fill="#000" stroke="#fff" stroke-width="0.50">(</text>
<text transform="translate(36.30,97.75) rotate(-90)" font-size="37.10" fill="#000" textLength="43.6" lengthAdjust="spacingAndGlyphs" stroke="#fff" stroke-width="0.60">‰</text>
<text transform="translate(36.30,52.75) rotate(-90)" font-size="37.10" fill="#000" stroke="#fff" stroke-width="0.50">)</text>
<text transform="translate(747.10,349.50) rotate(-90) skewX(-14) scale(1.2,1)" font-size="35.00" fill="#000" font-family="Liberation Serif,serif">δ</text>
<text transform="translate(733.10,323.40) rotate(-90)" font-size="24.00" fill="#000" >18</text>
<text transform="translate(748.30,296.40) rotate(-90)" font-size="36.00" fill="#000" >O</text>
<text transform="translate(757.90,257.80) rotate(-90)" font-size="25.50" fill="#000" >sagar</text>
<text transform="translate(748.70,175.20) rotate(-90)" font-size="37.10" fill="#000" stroke="#fff" stroke-width="0.50">(</text>
<text transform="translate(748.70,161.60) rotate(-90)" font-size="37.10" fill="#000" textLength="43.6" lengthAdjust="spacingAndGlyphs" stroke="#fff" stroke-width="0.60">‰</text>
<text transform="translate(748.70,116.60) rotate(-90)" font-size="37.10" fill="#000" stroke="#fff" stroke-width="0.50">)</text>
<text transform="translate(1402.60,358.50) rotate(-90) skewX(-14) scale(1.2,1)" font-size="35.00" fill="#000" font-family="Liberation Serif,serif">δ</text>
<text transform="translate(1388.60,332.40) rotate(-90)" font-size="24.00" fill="#000" >18</text>
<text transform="translate(1403.80,305.40) rotate(-90)" font-size="36.00" fill="#000" >O</text>
<text transform="translate(1414.10,266.80) rotate(-90)" font-size="25.50" fill="#000" >kolkata</text>
<text transform="translate(1404.20,166.60) rotate(-90)" font-size="37.10" fill="#000" stroke="#fff" stroke-width="0.50">(</text>
<text transform="translate(1404.20,153.00) rotate(-90)" font-size="37.10" fill="#000" textLength="43.6" lengthAdjust="spacingAndGlyphs" stroke="#fff" stroke-width="0.60">‰</text>
<text transform="translate(1404.20,108.00) rotate(-90)" font-size="37.10" fill="#000" stroke="#fff" stroke-width="0.50">)</text>
<text transform="translate(53.40,889.70) rotate(-90) skewX(-14) scale(1.2,1)" font-size="35.00" fill="#000" font-family="Liberation Serif,serif">δ</text>
<text transform="translate(39.40,863.60) rotate(-90)" font-size="24.00" fill="#000" >18</text>
<text transform="translate(54.60,836.60) rotate(-90)" font-size="36.00" fill="#000" >O</text>
<text transform="translate(65.20,798.00) rotate(-90)" font-size="25.50" fill="#000" >pune</text>
<text transform="translate(55.00,723.00) rotate(-90)" font-size="37.10" fill="#000" stroke="#fff" stroke-width="0.50">(</text>
<text transform="translate(55.00,709.40) rotate(-90)" font-size="37.10" fill="#000" textLength="43.6" lengthAdjust="spacingAndGlyphs" stroke="#fff" stroke-width="0.60">‰</text>
<text transform="translate(55.00,664.40) rotate(-90)" font-size="37.10" fill="#000" stroke="#fff" stroke-width="0.50">)</text>
<text transform="translate(752.30,862.90) rotate(-90) skewX(-14) scale(1.2,1)" font-size="35.00" fill="#000" font-family="Liberation Serif,serif">δ</text>
<text transform="translate(738.30,836.80) rotate(-90)" font-size="24.00" fill="#000" >18</text>
<text transform="translate(753.50,809.80) rotate(-90)" font-size="36.00" fill="#000" >O</text>
<text transform="translate(753.90,750.60) rotate(-90)" font-size="37.10" fill="#000" stroke="#fff" stroke-width="0.50">(</text>
<text transform="translate(753.90,737.00) rotate(-90)" font-size="37.10" fill="#000" textLength="43.6" lengthAdjust="spacingAndGlyphs" stroke="#fff" stroke-width="0.60">‰</text>
<text transform="translate(753.90,692.00) rotate(-90)" font-size="37.10" fill="#000" stroke="#fff" stroke-width="0.50">)</text>
<text transform="translate(1410.55,842.81) rotate(-90) skewX(-14) scale(1.2,1)" font-size="27.30" fill="#000" font-family="Liberation Serif,serif">δ</text>
<text transform="translate(1399.63,822.45) rotate(-90)" font-size="18.72" fill="#000" >18</text>
<text transform="translate(1411.49,801.39) rotate(-90)" font-size="28.08" fill="#000" >O</text>
<text transform="translate(1411.80,755.53) rotate(-90)" font-size="28.94" fill="#000" stroke="#fff" stroke-width="0.39">(</text>
<text transform="translate(1411.80,744.92) rotate(-90)" font-size="28.94" fill="#000" textLength="34.0" lengthAdjust="spacingAndGlyphs" stroke="#fff" stroke-width="0.47">‰</text>
<text transform="translate(1411.80,709.82) rotate(-90)" font-size="28.94" fill="#000" stroke="#fff" stroke-width="0.39">)</text>
</svg>
</body></html>
